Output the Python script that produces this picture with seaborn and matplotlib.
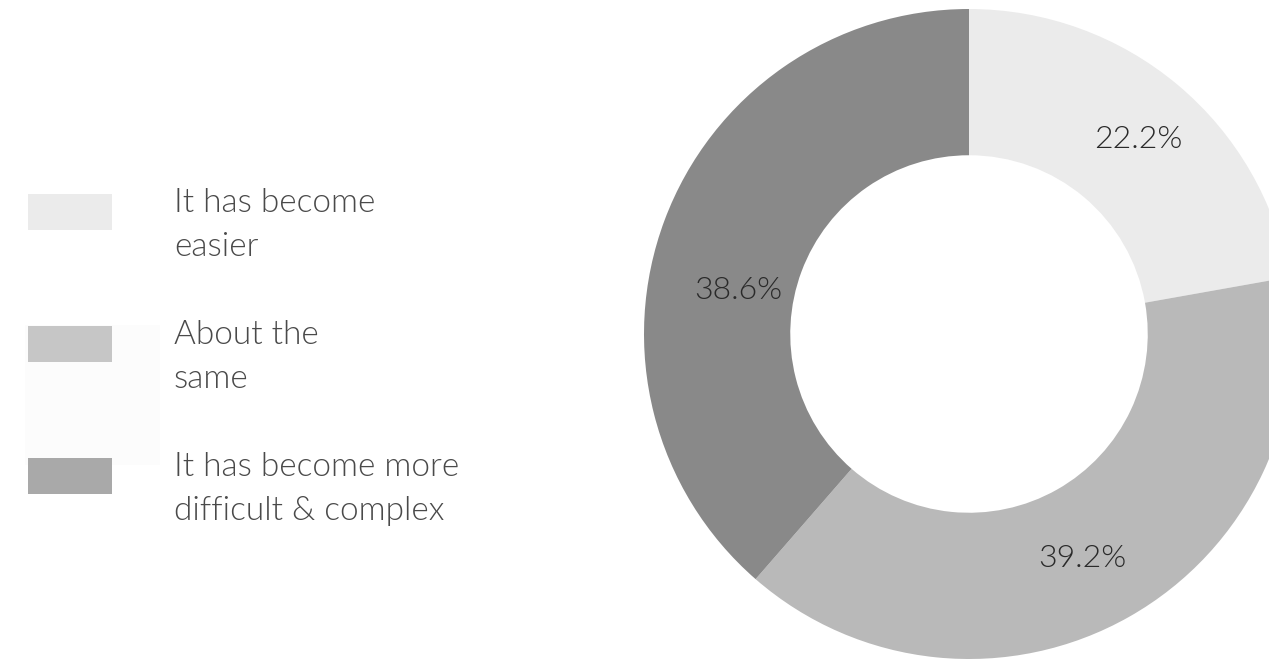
import matplotlib
matplotlib.use("Agg")
import matplotlib.pyplot as plt
from matplotlib.patches import Rectangle
import seaborn as sns

# data
categories = ["It has become\neasier", "About the\nsame", "It has become more\ndifficult & complex"]
shares = [22.2, 39.2, 38.6]
wedge_colors = ["#ebebeb", "#b9b9b9", "#898989"]
legend_colors = ["#ebebeb", "#c6c6c6", "#a9a9a9"]

sns.set_theme(style="white")
plt.rcParams["font.family"] = ["Lato", "DejaVu Sans"]

fig = plt.figure(figsize=(12.69, 6.59), dpi=100)
fig.patch.set_facecolor("white")

# donut, centre at ~(969, 334) px, outer radius ~325 px
ax = fig.add_axes([644 / 1269, 0.0, 650 / 1269, 650 / 659])
wedges, texts, autotexts = ax.pie(
    shares, colors=wedge_colors, startangle=90, counterclock=False,
    radius=1.0, wedgeprops=dict(width=0.45, linewidth=0),
    autopct="%.1f%%", pctdistance=0.78,
    textprops=dict(fontsize=23, color="#2a2a2a", fontweight=300))
# labels sit a bit off the wedge middle in the original
autotexts[0].set_position((0.52, 0.60))
autotexts[2].set_position((-0.71, 0.135))
autotexts[1].set_position((0.35, -0.69))
ax.set_xlim(-1, 1)
ax.set_ylim(-1, 1)
ax.set_aspect("equal")
ax.axis("off")

# legend drawn in pixel coordinates
lax = fig.add_axes([0, 0, 1, 1], zorder=-1)
lax.set_xlim(0, 1269)
lax.set_ylim(659, 0)
lax.axis("off")
lax.add_patch(Rectangle((25, 325), 135, 140, color="#fcfcfc", lw=0))
for i, (lab, col) in enumerate(zip(categories, legend_colors)):
    y = 194 + i * 132
    lax.add_patch(Rectangle((28, y), 84, 36, color=col, lw=0))
    lax.text(174, y - 6, lab, fontsize=24, color="#4a4a4a", fontweight=300,
             va="top", ha="left", linespacing=1.6)

fig.savefig("out.png", dpi=100, facecolor="white")
